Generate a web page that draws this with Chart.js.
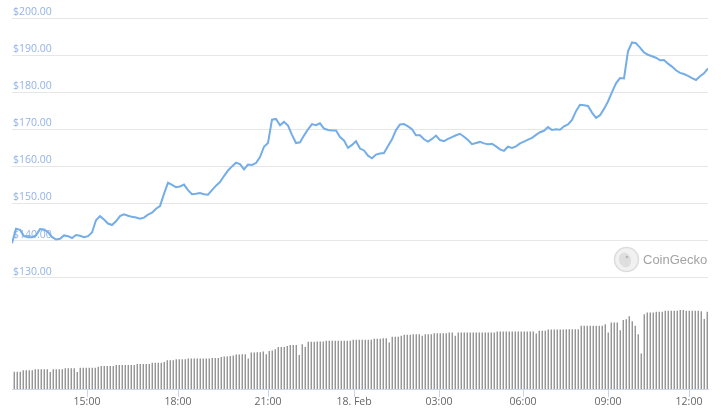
<!DOCTYPE html>
<html>
<head>
<meta charset="utf-8">
<script src="https://cdn.jsdelivr.net/npm/chart.js@4"></script>
<style>
  html, body { margin: 0; padding: 0; background: #fff; }
  #wrap { width: 721px; height: 413px; }
</style>
</head>
<body>
<div id="wrap"><canvas id="chart"></canvas></div>
<script>
// price, one point per step of the (ordinal) time axis
var price = [
  139.3,143.2,142.9,141.2,140.9,140.9,141.4,143.1,143.0,142.3,
  141.0,140.3,140.5,141.4,141.2,140.7,141.5,141.3,140.9,141.2,
  142.2,145.5,146.6,145.7,144.6,144.2,145.2,146.6,147.1,146.7,
  146.4,146.2,145.9,146.2,147.0,147.5,148.6,149.3,152.6,155.6,
  155.0,154.4,154.6,155.1,153.6,152.5,152.6,152.8,152.5,152.4,
  153.6,154.8,155.8,157.4,158.9,160.0,161.0,160.6,159.2,160.5,
  160.4,160.9,162.5,165.3,166.3,172.6,172.8,171.1,172.0,171.0,
  168.5,166.3,166.5,168.3,170.0,171.4,171.1,171.6,170.2,169.8,
  169.7,169.7,167.9,167.0,165.0,165.8,166.8,164.8,164.3,162.9,
  162.2,163.2,163.5,163.6,165.5,167.3,169.8,171.3,171.4,170.8,
  170.0,168.4,168.4,167.3,166.7,167.4,168.3,167.1,166.8,167.4,
  167.9,168.4,168.8,168.0,167.1,166.0,166.3,166.6,166.2,166.0,
  166.1,165.4,164.6,164.2,165.3,165.0,165.4,166.2,166.7,167.2,
  167.7,168.5,169.2,169.6,170.6,169.8,170.0,169.9,170.8,171.3,
  172.5,174.9,176.6,176.5,176.3,174.5,173.1,173.8,175.5,177.5,
  180.0,182.4,183.8,183.7,191.0,193.4,193.2,192.0,190.7,190.1,
  189.7,189.3,188.6,188.7,187.7,186.9,185.9,185.2,184.9,184.4,
  183.8,183.3,184.3,185.1,186.4
];

// volume bars (arbitrary units)
var volume = [
  173,173,173,187,187,187,187,197,197,197,
  197,197,170,197,197,197,197,207,207,207,
  207,170,213,213,213,213,213,213,222,230,
  230,230,230,230,240,240,240,240,240,240,
  240,250,250,250,250,250,263,263,263,263,
  270,287,287,287,297,297,297,297,303,303,
  303,303,303,303,303,303,310,310,310,320,
  323,323,330,333,343,343,347,347,303,363,
  363,366,366,373,347,380,385,397,420,420,
  420,430,440,440,440,340,447,420,470,470,
  470,473,473,473,480,480,480,480,480,480,
  480,480,480,490,490,490,490,490,490,490,
  500,500,500,505,505,463,520,520,520,530,
  540,540,540,547,547,547,530,547,547,547,
  557,557,557,557,557,563,563,530,563,563,
  563,563,563,563,563,563,563,563,563,563,
  563,573,573,573,573,573,573,573,573,573,
  573,573,573,573,553,580,580,580,593,593,
  593,593,593,593,597,597,597,597,597,630,
  630,630,630,630,630,630,630,647,563,663,
  663,663,587,687,695,725,675,630,547,353,
  745,763,763,763,770,770,770,780,780,780,
  780,780,787,787,780,780,780,780,780,775,
  697,770
];

// time ticks (position on the ordinal axis) and their labels
var tickIdx = [18.75, 41.5, 64, 85.5, 106.75, 127.75, 149, 169.25];
var tickLabels = ['15:00', '18:00', '21:00', '18. Feb', '03:00', '06:00', '09:00', '12:00'];
var priceTicks = [130, 140, 150, 160, 170, 180, 190, 200];

var watermark = {
  id: 'watermark',
  beforeDatasetsDraw: function (chart) {
    var ctx = chart.ctx;
    ctx.save();
    ctx.beginPath();
    ctx.arc(626.5, 259.5, 12, 0, Math.PI * 2);
    ctx.fillStyle = '#f1f1f1';
    ctx.fill();
    ctx.lineWidth = 1.5;
    ctx.strokeStyle = '#dddddd';
    ctx.stroke();
    ctx.beginPath();
    ctx.ellipse(625, 260, 6, 7.5, -0.3, 0, Math.PI * 2);
    ctx.fillStyle = '#dedede';
    ctx.fill();
    ctx.beginPath();
    ctx.arc(627, 257, 1.3, 0, Math.PI * 2);
    ctx.fillStyle = '#b5b5b5';
    ctx.fill();
    ctx.fillStyle = '#a3a3a3';
    ctx.font = '13px "Liberation Sans", Arial, sans-serif';
    ctx.textBaseline = 'middle';
    ctx.fillText('CoinGecko', 643, 260);
    ctx.restore();
  }
};

new Chart(document.getElementById('chart'), {
  type: 'line',
  data: {
    datasets: [
      {
        type: 'line',
        data: price.map(function (p, i) { return { x: i, y: p }; }),
        xAxisID: 'x',
        yAxisID: 'y',
        borderColor: '#74ade8',
        borderWidth: 2,
        pointRadius: 0,
        tension: 0,
        order: 1
      },
      {
        type: 'bar',
        data: volume,
        xAxisID: 'xv',
        yAxisID: 'yv',
        backgroundColor: '#8a8a8a',
        barPercentage: 0.86,
        categoryPercentage: 1,
        order: 2
      }
    ]
  },
  plugins: [watermark],
  options: {
    responsive: true,
    maintainAspectRatio: false,
    animation: false,
    layout: { padding: { left: 10, right: 13, top: 18, bottom: 5.4 } },
    plugins: { legend: { display: false }, tooltip: { enabled: false } },
    scales: {
      x: {
        type: 'linear',
        min: 0,
        max: price.length - 1,
        afterBuildTicks: function (s) {
          s.ticks = tickIdx.map(function (v) { return { value: v }; });
        },
        ticks: {
          autoSkip: false,
          maxRotation: 0,
          padding: -1,
          color: '#666666',
          font: { family: '"Open Sans", sans-serif', size: 10.5 },
          callback: function (v) { return tickLabels[tickIdx.indexOf(v)]; }
        },
        grid: { drawOnChartArea: false, drawTicks: true, tickLength: 8, color: '#ccd6eb' },
        border: { display: true, color: '#ccd6eb' }
      },
      xv: {
        type: 'category',
        labels: volume.map(function (v, i) { return i; }),
        offset: true,
        display: false
      },
      yv: {
        min: 0,
        max: 3700,
        display: false
      },
      y: {
        min: 100,
        max: 200,
        afterBuildTicks: function (s) {
          s.ticks = priceTicks.map(function (v) { return { value: v }; });
        },
        ticks: {
          mirror: true,
          padding: 1,
          labelOffset: -6,
          color: '#93b2e6',
          font: { family: '"Open Sans", sans-serif', size: 10.5 },
          callback: function (v) { return '$' + v.toFixed(2); }
        },
        grid: { drawTicks: false, color: '#e6e6e6' },
        border: { display: false }
      }
    }
  }
});
</script>
</body>
</html>
